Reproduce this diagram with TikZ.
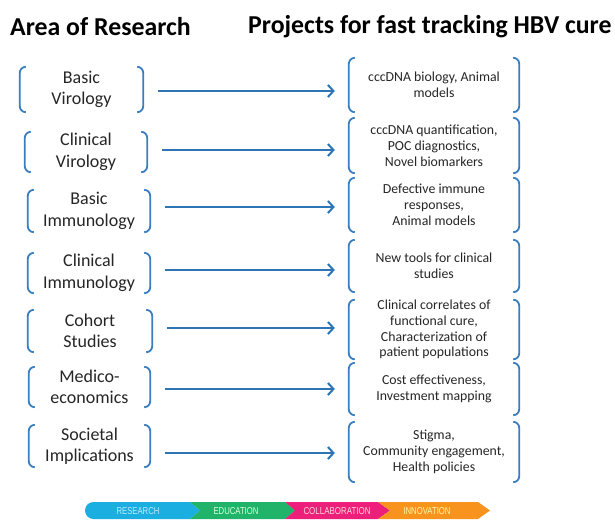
\documentclass[tikz,border=0pt]{standalone}
\usepackage{fontspec}
\setmainfont{Carlito}
\newfontfamily\banfont{Liberation Sans}
\usetikzlibrary{arrows.meta,calc}
\definecolor{brblue}{HTML}{3A7EBF}
\definecolor{arblue}{HTML}{2E75B6}
\definecolor{bcyan}{HTML}{1BAEE0}
\definecolor{bgreen}{HTML}{20B46A}
\definecolor{bmag}{HTML}{EC1F7A}
\definecolor{borange}{HTML}{F8941E}
\tikzset{
  head/.style={inner sep=0pt, anchor=west, font=\bfseries\fontsize{25.8}{30}\selectfont, text=black},
  area/.style={inner sep=0pt, align=center, font=\fontsize{18}{21.5}\selectfont, text=black!85},
  proj/.style={inner sep=0pt, align=center, font=\fontsize{13.8}{15.8}\selectfont, text=black!85, minimum width=170pt},
  brk/.style={draw=brblue, line width=1.8pt, rounded corners=6pt},
  arr/.style={draw=arblue, line width=2pt, -{Straight Barb[length=5.5pt,width=12pt]}, shorten <=15pt, shorten >=14pt},
  bantext/.style={inner sep=0pt, font=\banfont},
}
\newcommand\brackaround[1]{%
  \draw[brk] ($(#1.north west)+(6pt,0)$) -- (#1.north west) -- (#1.south west) -- ($(#1.south west)+(6pt,0)$);
  \draw[brk] ($(#1.north east)+(-6pt,0)$) -- (#1.north east) -- (#1.south east) -- ($(#1.south east)+(-6pt,0)$);
}
\begin{document}
\begin{tikzpicture}[x=1pt,y=-1pt]
\useasboundingbox[fill=white] (0,0) rectangle (615,520);
% headers
\node[head] (h1) at (10,27) {Area of Research};
\node[head] (h2) at (248,27) {Projects for fast tracking HBV cure};
% left nodes
\node[area, minimum width=123pt, minimum height=45pt] (L1) at (81.5,89.5) {Basic\\Virology};
\node[area, minimum width=122pt, minimum height=40pt] (L2) at (86,152) {Clinical\\Virology};
\node[area, minimum width=122pt, minimum height=42pt] (L3) at (89,211) {Basic\\Immunology};
\node[area, minimum width=122pt, minimum height=40pt] (L4) at (89,273) {Clinical\\Immunology};
\node[area, minimum width=124pt, minimum height=42pt] (L5) at (90,331) {Cohort\\Studies};
\node[area, minimum width=121pt, minimum height=40pt] (L6) at (89.5,387) {Medico-\\economics};
\node[area, minimum width=121pt, minimum height=42pt] (L7) at (89.5,446) {Societal\\Implications};
% right nodes
\node[proj, minimum height=54pt] (R1) at (434,85) {cccDNA biology, Animal\\models};
\node[proj, minimum height=55pt] (R2) at (434,145.5) {cccDNA quantification,\\POC diagnostics,\\Novel biomarkers};
\node[proj, minimum height=54pt] (R3) at (434,205) {Defective immune\\responses,\\Animal models};
\node[proj, minimum height=52pt] (R4) at (434,266) {New tools for clinical\\studies};
\node[proj, minimum height=55pt] (R5) at (434,329.5) {Clinical correlates of\\functional cure,\\Characterization of\\patient populations};
\node[proj, minimum height=52pt] (R6) at (434,389) {Cost effectiveness,\\Investment mapping};
\node[proj, minimum height=60pt] (R7) at (434,452) {Stigma,\\Community engagement,\\Health policies};
% brackets
\foreach \n in {L1,L2,L3,L4,L5,L6,L7,R1,R2,R3,R4,R5,R6,R7} {\brackaround{\n}}
% arrows
\foreach \i/\d in {1/-1.5pt,2/2pt,3/4pt,4/3pt,5/3pt,6/-2pt,7/-7pt}
  {\draw[arr] ([yshift=\d]L\i.east) -- ([yshift=\d]L\i.east -| R\i.west);}
% banner
\fill[bcyan] (190,502) -- (200,510.5) -- (190,519) -- (93.5,519) arc[start angle=270, end angle=90, radius=8.5pt] -- cycle;
\fill[bgreen] (190,502) -- (285,502) -- (295,510.5) -- (285,519) -- (190,519) -- (200,510.5) -- cycle;
\fill[bmag] (285,502) -- (378,502) -- (390,510.5) -- (378,519) -- (285,519) -- (295,510.5) -- cycle;
\fill[borange] (378,502) -- (478,502) -- (490,510.5) -- (478,519) -- (378,519) -- (390,510.5) -- cycle;
\node[bantext, text=cyan!25] (b1) at (138,511) {\resizebox{43pt}{7pt}{RESEARCH}};
\node[bantext, text=green!15] (b2) at (236,511) {\resizebox{45pt}{7pt}{EDUCATION}};
\node[bantext, text=pink!60] (b3) at (337,511.5) {\resizebox{67pt}{7pt}{COLLABORATION}};
\node[bantext, text=yellow!35] (b4) at (427,511) {\resizebox{47pt}{7pt}{INNOVATION}};
\end{tikzpicture}
\end{document}
